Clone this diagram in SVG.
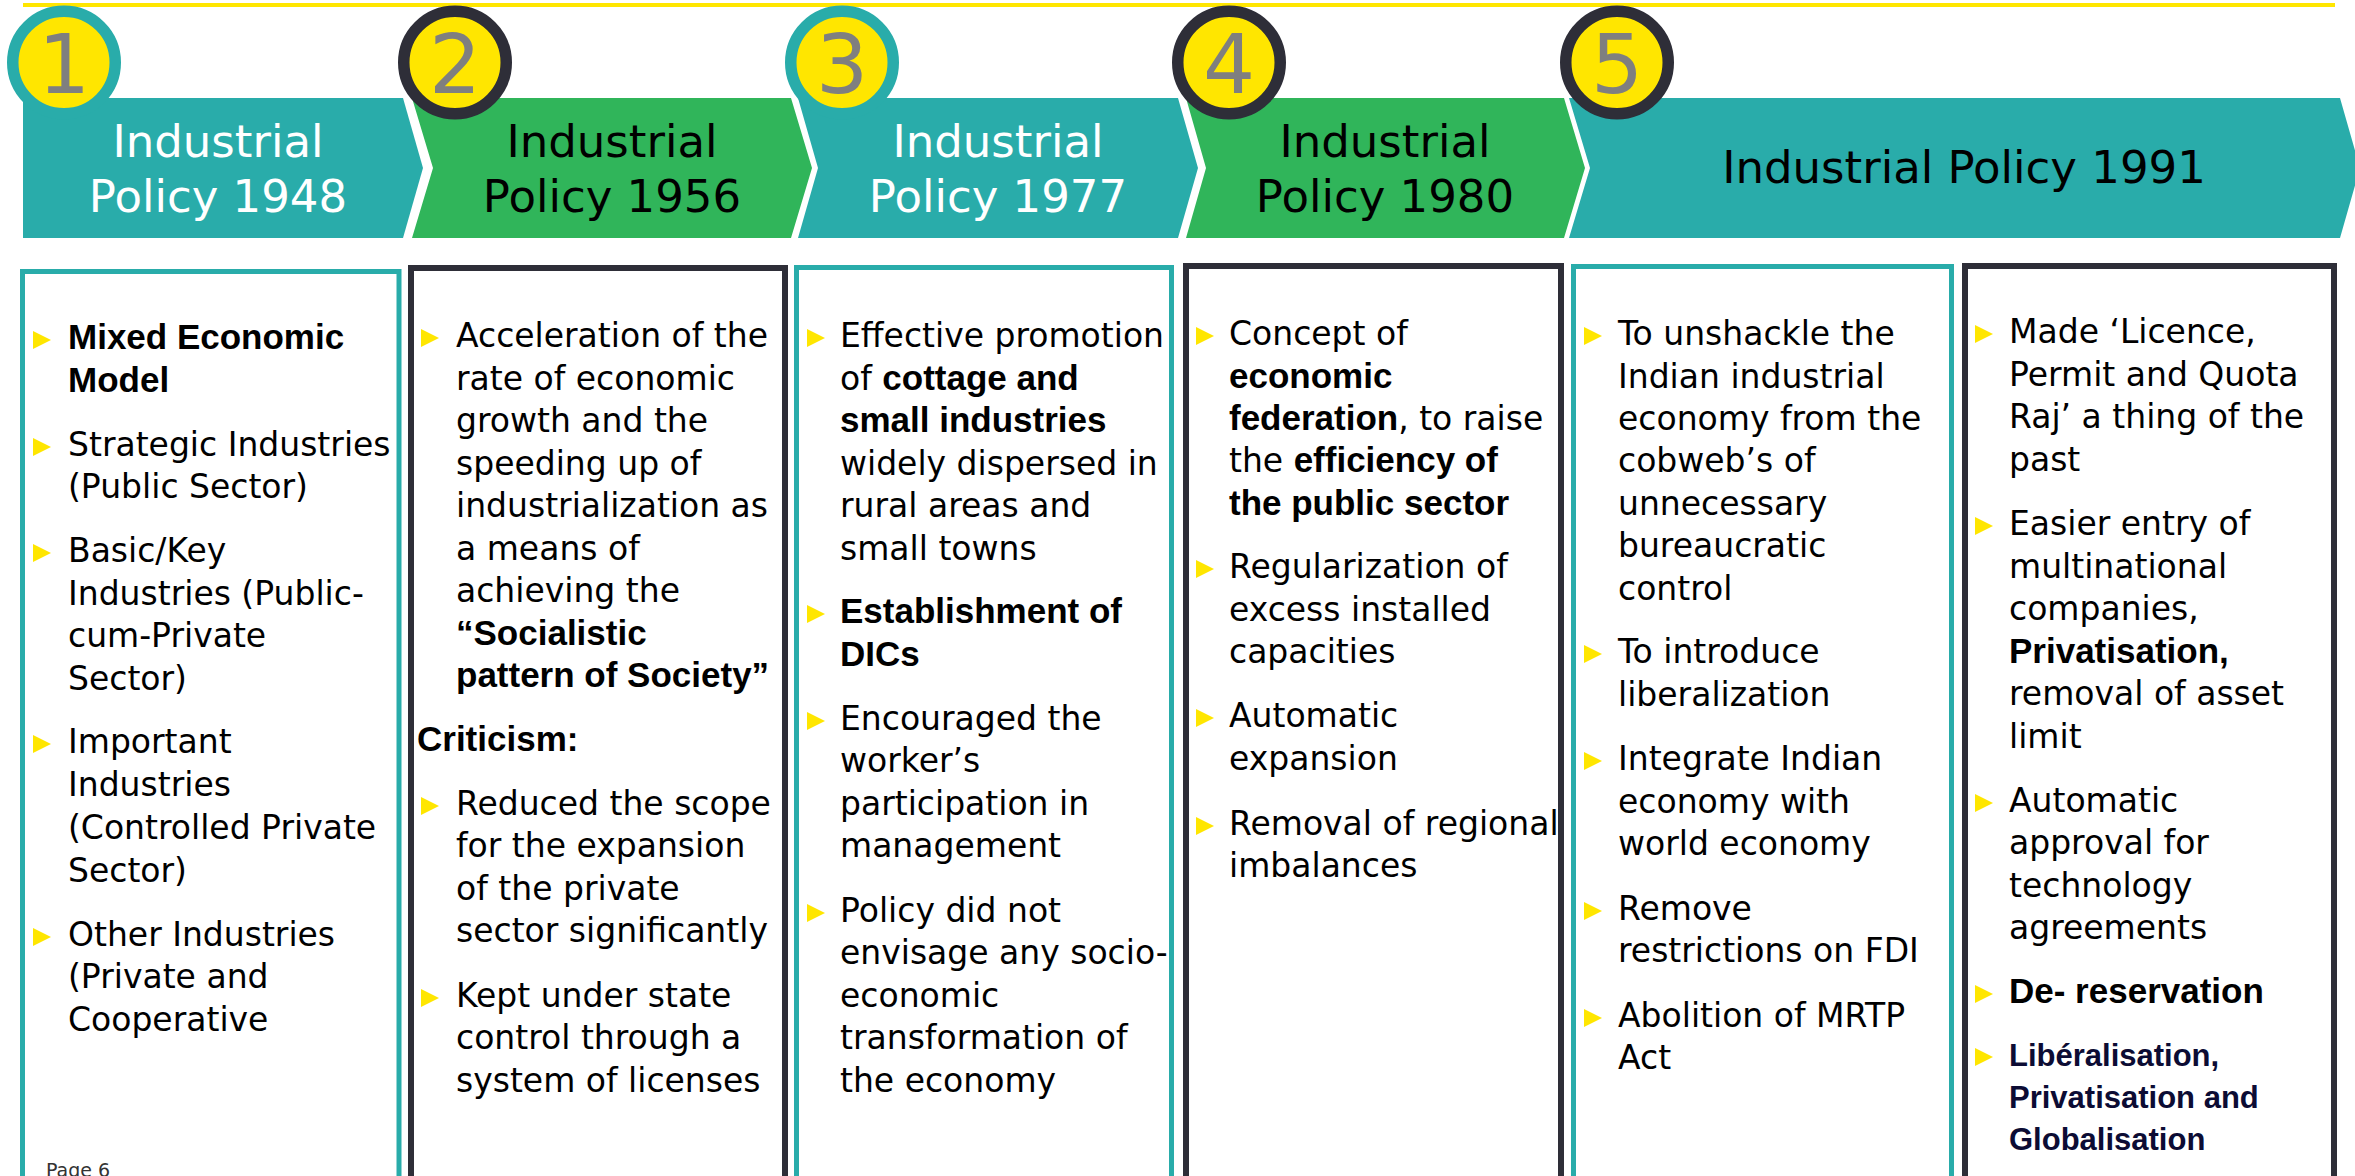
<svg xmlns="http://www.w3.org/2000/svg" width="2355" height="1176" viewBox="0 0 2355 1176">
<style>
.t{font-family:"DejaVu Sans","Liberation Sans",sans-serif;font-size:33px;fill:#000}
.k{font-family:"Liberation Sans",Arial,sans-serif;font-weight:bold;font-size:35px}
.n{font-family:"Liberation Sans",Arial,sans-serif;font-weight:bold;font-size:31px;fill:#0c0c34}
.h{font-family:"DejaVu Sans",sans-serif;font-size:45px;text-anchor:middle}
.d{font-family:"DejaVu Sans",sans-serif;font-size:82px;fill:#7f7f7f;text-anchor:middle}
.teal{fill:#29ACAA}
.green{fill:#30B55A}
.rt{fill:#FFE600;stroke:#29ACAA;stroke-width:11.5}
.rd{fill:#FFE600;stroke:#2E2E38;stroke-width:11.5}
.bt{fill:none;stroke:#29ACAA;stroke-width:5}
.bd{fill:none;stroke:#2E2E38;stroke-width:6}
.pg{font-family:"DejaVu Sans",sans-serif;font-size:19px;fill:#333}
</style>
<defs><path id="tri" d="M0,0L18,9L0,18Z" fill="#FFE600"/></defs>
<rect x="23" y="3" width="2312" height="4" fill="#FFE600"/>

<g id="step1">
<path class="teal" d="M23,98L403,98L423,168L403,238L23,238Z"/>
<circle class="rt" cx="64" cy="62.5" r="51.25"/>
<text class="d" x="64" y="93">1</text>
<text class="h" fill="#fff"><tspan x="218" y="157">Industrial</tspan><tspan x="218" y="212">Policy 1948</tspan></text>
</g>
<g id="step2">
<path class="green" d="M412,98L791,98L812,168L791,238L412,238L433,168Z"/>
<circle class="rd" cx="455" cy="62.5" r="51.25"/>
<text class="d" x="455" y="93">2</text>
<text class="h" fill="#000"><tspan x="612" y="157">Industrial</tspan><tspan x="612" y="212">Policy 1956</tspan></text>
</g>
<g id="step3">
<path class="teal" d="M798,98L1178,98L1198,168L1178,238L798,238L818,168Z"/>
<circle class="rt" cx="842" cy="62.5" r="51.25"/>
<text class="d" x="842" y="93">3</text>
<text class="h" fill="#fff"><tspan x="998" y="157">Industrial</tspan><tspan x="998" y="212">Policy 1977</tspan></text>
</g>
<g id="step4">
<path class="green" d="M1186,98L1564,98L1585,168L1564,238L1186,238L1206,168Z"/>
<circle class="rd" cx="1229" cy="62.5" r="51.25"/>
<text class="d" x="1229" y="93">4</text>
<text class="h" fill="#000"><tspan x="1385" y="157">Industrial</tspan><tspan x="1385" y="212">Policy 1980</tspan></text>
</g>
<g id="step5">
<path class="teal" d="M1569,98L2340,98L2360,168L2340,238L1569,238L1590,168Z"/>
<circle class="rd" cx="1617" cy="62.5" r="51.25"/>
<text class="d" x="1617" y="93">5</text>
<text class="h" fill="#000" x="1964" y="183">Industrial Policy 1991</text>
</g>

<g id="box1">
<rect class="bt" x="22.5" y="271.5" width="376.5" height="960"/>
<use href="#tri" x="33" y="331"/>
<text class="t"><tspan class="k" x="68" y="349">Mixed Economic</tspan><tspan class="k" x="68" y="392">Model</tspan></text>
<use href="#tri" x="33" y="438"/>
<text class="t"><tspan x="68" y="456">Strategic Industries</tspan><tspan x="68" y="498">(Public Sector)</tspan></text>
<use href="#tri" x="33" y="544"/>
<text class="t"><tspan x="68" y="562">Basic/Key</tspan><tspan x="68" y="605">Industries (Public-</tspan><tspan x="68" y="647">cum-Private</tspan><tspan x="68" y="690">Sector)</tspan></text>
<use href="#tri" x="33" y="735"/>
<text class="t"><tspan x="68" y="753">Important</tspan><tspan x="68" y="796">Industries</tspan><tspan x="68" y="839">(Controlled Private</tspan><tspan x="68" y="882">Sector)</tspan></text>
<use href="#tri" x="33" y="928"/>
<text class="t"><tspan x="68" y="946">Other Industries</tspan><tspan x="68" y="988">(Private and</tspan><tspan x="68" y="1031">Cooperative</tspan></text>
<text class="pg" x="46" y="1177">Page 6</text>
</g>

<g id="box2">
<rect class="bd" x="411" y="268" width="374" height="960"/>
<use href="#tri" x="421" y="329"/>
<text class="t"><tspan x="456" y="347">Acceleration of the</tspan><tspan x="456" y="389.5">rate of economic</tspan><tspan x="456" y="432">growth and the</tspan><tspan x="456" y="474.5">speeding up of</tspan><tspan x="456" y="517">industrialization as</tspan><tspan x="456" y="559.5">a means of</tspan><tspan x="456" y="602">achieving the</tspan><tspan class="k" x="456" y="644.5">“Socialistic</tspan><tspan class="k" x="456" y="687">pattern of Society”</tspan></text>
<text class="t"><tspan class="k" x="417" y="751">Criticism:</tspan></text>
<use href="#tri" x="421" y="797"/>
<text class="t"><tspan x="456" y="815">Reduced the scope</tspan><tspan x="456" y="857">for the expansion</tspan><tspan x="456" y="900">of the private</tspan><tspan x="456" y="942">sector significantly</tspan></text>
<use href="#tri" x="421" y="989"/>
<text class="t"><tspan x="456" y="1007">Kept under state</tspan><tspan x="456" y="1049">control through a</tspan><tspan x="456" y="1092">system of licenses</tspan></text>
</g>

<g id="box3">
<rect class="bt" x="796.5" y="267.5" width="375" height="960"/>
<use href="#tri" x="807" y="329"/>
<text class="t"><tspan x="840" y="347">Effective promotion</tspan><tspan x="840" y="389.5">of <tspan class="k">cottage and</tspan></tspan><tspan class="k" x="840" y="432">small industries</tspan><tspan x="840" y="474.5">widely dispersed in</tspan><tspan x="840" y="517">rural areas and</tspan><tspan x="840" y="559.5">small towns</tspan></text>
<use href="#tri" x="807" y="605"/>
<text class="t"><tspan class="k" x="840" y="623">Establishment of</tspan><tspan class="k" x="840" y="666">DICs</tspan></text>
<use href="#tri" x="807" y="712"/>
<text class="t"><tspan x="840" y="730">Encouraged the</tspan><tspan x="840" y="772">worker’s</tspan><tspan x="840" y="815">participation in</tspan><tspan x="840" y="857">management</tspan></text>
<use href="#tri" x="807" y="904"/>
<text class="t"><tspan x="840" y="922">Policy did not</tspan><tspan x="840" y="964">envisage any socio-</tspan><tspan x="840" y="1007">economic</tspan><tspan x="840" y="1049">transformation of</tspan><tspan x="840" y="1092">the economy</tspan></text>
</g>

<g id="box4">
<rect class="bd" x="1186" y="266" width="375" height="960"/>
<use href="#tri" x="1196" y="327"/>
<text class="t"><tspan x="1229" y="345">Concept of</tspan><tspan class="k" x="1229" y="388">economic</tspan><tspan x="1229" y="430"><tspan class="k">federation</tspan>, to raise</tspan><tspan x="1229" y="472">the <tspan class="k">efficiency of</tspan></tspan><tspan class="k" x="1229" y="515">the public sector</tspan></text>
<use href="#tri" x="1196" y="560"/>
<text class="t"><tspan x="1229" y="578">Regularization of</tspan><tspan x="1229" y="621">excess installed</tspan><tspan x="1229" y="663">capacities</tspan></text>
<use href="#tri" x="1196" y="709"/>
<text class="t"><tspan x="1229" y="727">Automatic</tspan><tspan x="1229" y="770">expansion</tspan></text>
<use href="#tri" x="1196" y="817"/>
<text class="t"><tspan x="1229" y="835">Removal of regional</tspan><tspan x="1229" y="877">imbalances</tspan></text>
</g>

<g id="box5">
<rect class="bt" x="1573.5" y="266.5" width="378" height="960"/>
<use href="#tri" x="1584" y="327"/>
<text class="t"><tspan x="1618" y="345">To unshackle the</tspan><tspan x="1618" y="388">Indian industrial</tspan><tspan x="1618" y="430">economy from the</tspan><tspan x="1618" y="472">cobweb’s of</tspan><tspan x="1618" y="515">unnecessary</tspan><tspan x="1618" y="557">bureaucratic</tspan><tspan x="1618" y="600">control</tspan></text>
<use href="#tri" x="1584" y="645"/>
<text class="t"><tspan x="1618" y="663">To introduce</tspan><tspan x="1618" y="706">liberalization</tspan></text>
<use href="#tri" x="1584" y="752"/>
<text class="t"><tspan x="1618" y="770">Integrate Indian</tspan><tspan x="1618" y="813">economy with</tspan><tspan x="1618" y="855">world economy</tspan></text>
<use href="#tri" x="1584" y="902"/>
<text class="t"><tspan x="1618" y="920">Remove</tspan><tspan x="1618" y="962">restrictions on FDI</tspan></text>
<use href="#tri" x="1584" y="1009"/>
<text class="t"><tspan x="1618" y="1027">Abolition of MRTP</tspan><tspan x="1618" y="1069">Act</tspan></text>
</g>

<g id="box6">
<rect class="bd" x="1965" y="266" width="369" height="960"/>
<use href="#tri" x="1975" y="325"/>
<text class="t"><tspan x="2009" y="343">Made ‘Licence,</tspan><tspan x="2009" y="386">Permit and Quota</tspan><tspan x="2009" y="428">Raj’ a thing of the</tspan><tspan x="2009" y="471">past</tspan></text>
<use href="#tri" x="1975" y="517"/>
<text class="t"><tspan x="2009" y="535">Easier entry of</tspan><tspan x="2009" y="578">multinational</tspan><tspan x="2009" y="620">companies,</tspan><tspan class="k" x="2009" y="663">Privatisation,</tspan><tspan x="2009" y="705">removal of asset</tspan><tspan x="2009" y="748">limit</tspan></text>
<use href="#tri" x="1975" y="794"/>
<text class="t"><tspan x="2009" y="812">Automatic</tspan><tspan x="2009" y="854">approval for</tspan><tspan x="2009" y="897">technology</tspan><tspan x="2009" y="939">agreements</tspan></text>
<use href="#tri" x="1975" y="985"/>
<text class="t"><tspan class="k" x="2009" y="1003">De- reservation</tspan></text>
<use href="#tri" x="1975" y="1048"/>
<text class="n"><tspan x="2009" y="1066">Libéralisation,</tspan><tspan x="2009" y="1108">Privatisation and</tspan><tspan x="2009" y="1150">Globalisation</tspan></text>
</g>
</svg>
